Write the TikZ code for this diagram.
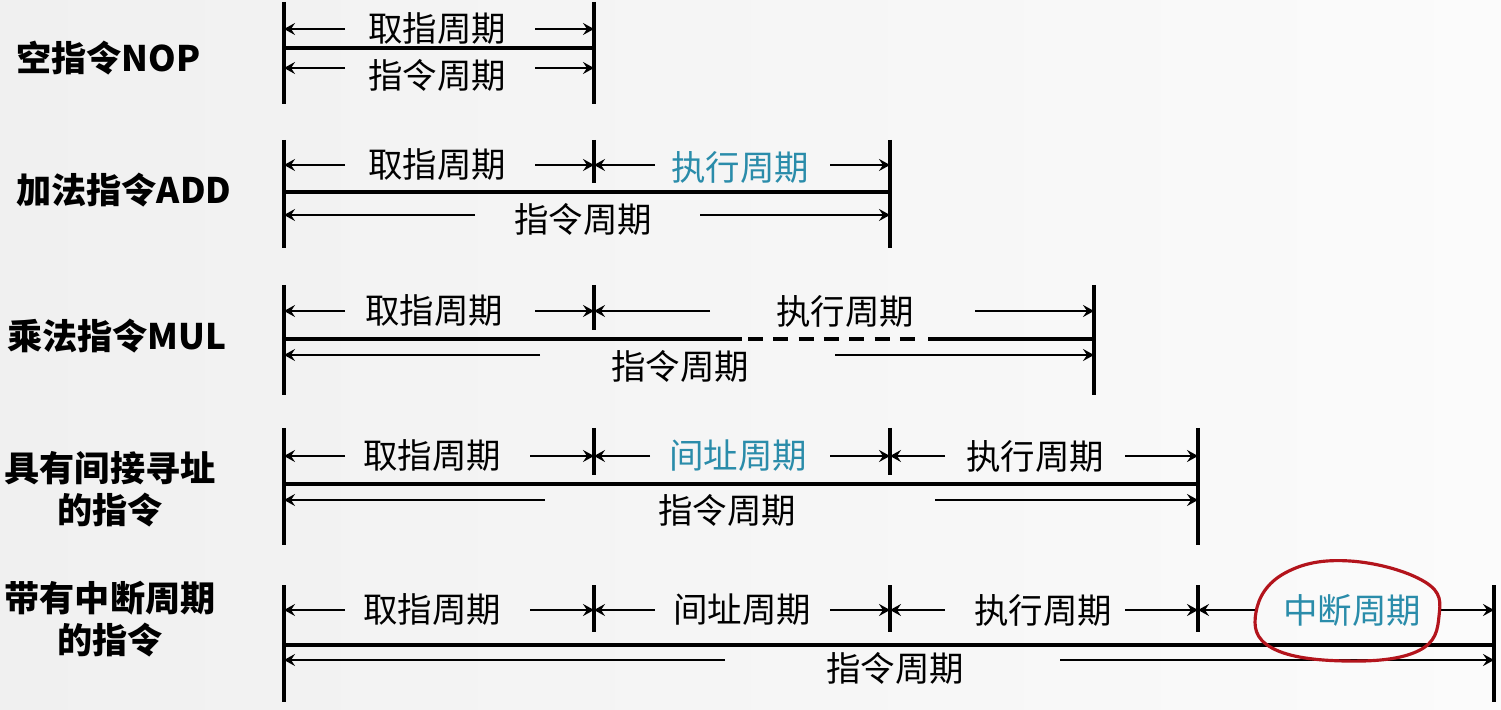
\documentclass[tikz,border=0pt]{standalone}
\usepackage{fontspec}
\setmainfont{Noto Sans CJK SC}
\usetikzlibrary{arrows.meta,calc}
\definecolor{phase}{HTML}{2A8CAA}
\definecolor{circled}{HTML}{B3141C}
\definecolor{pageL}{HTML}{F0F0F0}
\definecolor{pageR}{HTML}{FBFBFB}

\begin{document}
\begin{tikzpicture}[x=0.01cm,y=-0.01cm,
  every node/.style={font=\fontsize{9.8}{12}\selectfont,inner sep=1pt},
  tag/.style={font=\fontsize{10}{12}\selectfont\bfseries,align=center},
  lower/.style={text height=1.05em,text depth=0.1em},
  bar/.style={line width=1.2pt},
  main/.style={line width=1.2pt},
  dim/.style={-{Stealth[length=1.1mm,width=1.2mm,inset=0.4mm]},line width=0.5pt},
]
  % Page
  \shade[left color=pageL,right color=pageR] (0,0) rectangle (1501,710);
  \useasboundingbox (0,0) rectangle (1501,710);

  % NOP
  \node[tag,anchor=west] (nop) at (12,58) {空指令NOP};
  \foreach \x in {284,594} \draw[bar] (\x,2) -- (\x,104);
  \draw[main] (284,48) -- (594,48);
  \node (nopF) at (437,29) {取指周期};
  \draw[dim] (345,29) -- (284,29);
  \draw[dim] (535,29) -- (594,29);
  \node[lower] (nopI) at (437,72) {指令周期};
  \draw[dim] (345,68) -- (284,68);
  \draw[dim] (535,68) -- (594,68);

  % ADD
  \node[tag,anchor=west] (add) at (12,190) {加法指令ADD};
  \foreach \x in {284,890} \draw[bar] (\x,140) -- (\x,248);
  \draw[bar] (594,140) -- (594,183);
  \draw[main] (284,192) -- (890,192);
  \node (addF) at (437,165) {取指周期};
  \draw[dim] (345,165) -- (284,165);
  \draw[dim] (535,165) -- (594,165);
  \node[text=phase] (addE) at (740,167) {执行周期};
  \draw[dim] (655,165) -- (594,165);
  \draw[dim] (830,165) -- (890,165);
  \node[lower] (addI) at (583,216) {指令周期};
  \draw[dim] (475,215) -- (284,215);
  \draw[dim] (700,215) -- (890,215);

  % MUL
  \node[tag,anchor=west] (mul) at (3,336) {乘法指令MUL};
  \foreach \x in {284,1094} \draw[bar] (\x,285) -- (\x,395);
  \draw[bar] (594,285) -- (594,330);
  \draw[main] (284,339) -- (742,339);
  \draw[main,dash pattern=on 4.3pt off 2.9pt] (748,339) -- (920,339);
  \draw[main] (928,339) -- (1094,339);
  \node (mulF) at (434,311) {取指周期};
  \draw[dim] (345,311) -- (284,311);
  \draw[dim] (535,311) -- (594,311);
  \node (mulE) at (845,311) {执行周期};
  \draw[dim] (710,311) -- (594,311);
  \draw[dim] (975,311) -- (1094,311);
  \node[lower] (mulI) at (680,363) {指令周期};
  \draw[dim] (540,355) -- (284,355);
  \draw[dim] (835,355) -- (1094,355);

  % indirect addressing
  \node[tag] (ind) at (110,489) {具有间接寻址\\的指令};
  \foreach \x in {284,1198} \draw[bar] (\x,428) -- (\x,545);
  \foreach \x in {594,890} \draw[bar] (\x,428) -- (\x,475);
  \draw[main] (284,484) -- (1198,484);
  \node (indF) at (432,456) {取指周期};
  \draw[dim] (345,456) -- (284,456);
  \draw[dim] (530,456) -- (594,456);
  \node[text=phase] (indA) at (738,456) {间址周期};
  \draw[dim] (650,456) -- (594,456);
  \draw[dim] (830,456) -- (890,456);
  \node (indE) at (1035,456) {执行周期};
  \draw[dim] (945,456) -- (890,456);
  \draw[dim] (1125,456) -- (1198,456);
  \node[lower] (indI) at (727,507) {指令周期};
  \draw[dim] (545,500) -- (284,500);
  \draw[dim] (935,500) -- (1198,500);

  % interrupt
  \node[tag] (irq) at (110,619) {带有中断周期\\的指令};
  \foreach \x in {284,1494} \draw[bar] (\x,585) -- (\x,702);
  \foreach \x in {594,890,1198} \draw[bar] (\x,585) -- (\x,632);
  \draw[main] (284,645) -- (1494,645);
  \node (irqF) at (432,610) {取指周期};
  \draw[dim] (345,610) -- (284,610);
  \draw[dim] (530,610) -- (594,610);
  \node (irqA) at (742,610) {间址周期};
  \draw[dim] (655,610) -- (594,610);
  \draw[dim] (830,610) -- (890,610);
  \node (irqE) at (1043,610) {执行周期};
  \draw[dim] (945,610) -- (890,610);
  \draw[dim] (1125,610) -- (1198,610);
  \node[text=phase] (irqI) at (1352,610) {中断周期};
  \draw[dim] (1255,610) -- (1198,610);
  \draw[dim] (1440,610) -- (1494,610);
  \node[lower] (irqT) at (895,665) {指令周期};
  \draw[dim] (725,660) -- (284,660);
  \draw[dim] (1060,660) -- (1494,660);

  % hand-drawn ring
  \draw[circled,line width=0.9pt] plot[smooth cycle,tension=0.7] coordinates
    {(1425,582) (1350,561) (1285,573) (1256,612) (1272,648) (1345,661) (1418,651) (1439,616)};
\end{tikzpicture}
\end{document}
